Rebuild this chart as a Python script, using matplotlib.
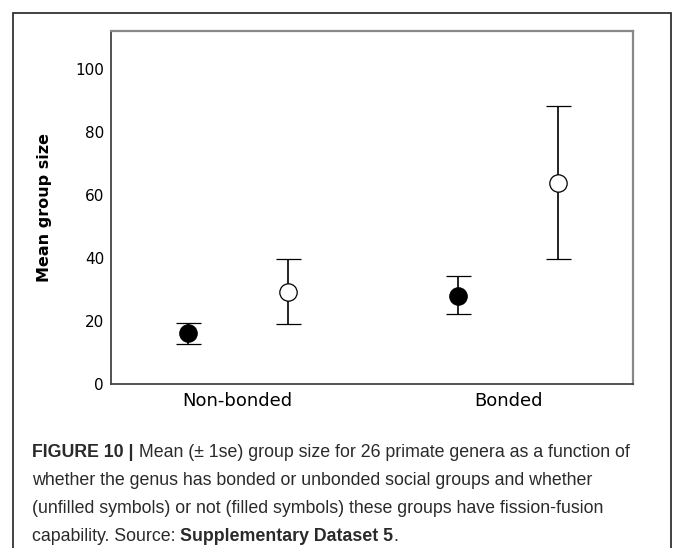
import matplotlib.pyplot as plt
from matplotlib.patches import Rectangle
import numpy as np

# values
groups = ['Non-bonded', 'Bonded']
filled_mean = [16.1, 27.8]
filled_lo = [12.7, 22.2]
filled_hi = [19.3, 34.2]
open_mean = [29.1, 63.9]
open_lo = [19.0, 39.6]
open_hi = [39.6, 88.3]
yticks = [0, 20, 40, 60, 80, 100]

caption = [
    [("FIGURE 10 |", "bold"), (" Mean (\u00b1 1se) group size for 26 primate genera as a function of", "normal")],
    [("whether the genus has bonded or unbonded social groups and whether", "normal")],
    [("(unfilled symbols) or not (filled symbols) these groups have fission-fusion", "normal")],
    [("capability. Source: ", "normal"), ("Supplementary Dataset 5", "bold"), (".", "normal")],
]


def draw_points(ax, x, mean, lo, hi, face):
    mean = np.array(mean)
    err = [mean - np.array(lo), np.array(hi) - mean]
    ax.errorbar(x, mean, yerr=err, fmt='o', color='black', ecolor='black',
                elinewidth=1.2, capsize=9, capthick=1.2, markersize=12.5,
                markerfacecolor=face, markeredgecolor='black', markeredgewidth=0.9)


fig = plt.figure(figsize=(6.73, 5.48), dpi=100)

# outer frame of the figure panel (open at the bottom)
fig.add_artist(Rectangle((13 / 673, -0.05), (671 - 13) / 673, (548 - 13) / 548 + 0.05,
                         transform=fig.transFigure, fill=False, edgecolor='#333333', linewidth=1.3))

ax = fig.add_axes([111 / 673, (548 - 384) / 548, (633 - 111) / 673, (384 - 31) / 548])
pos = np.arange(len(groups))
draw_points(ax, pos - 0.185, filled_mean, filled_lo, filled_hi, 'black')
draw_points(ax, pos + 0.185, open_mean, open_lo, open_hi, 'white')

ax.set_xlim(-0.468, 1.462)
ax.set_ylim(0, 112)
ax.set_xticks(pos)
ax.set_xticklabels(groups, fontsize=13)
ax.set_yticks(yticks)
ax.set_yticklabels([str(t) for t in yticks], fontsize=11)
ax.tick_params(length=0, pad=5)
ax.tick_params(axis='x', pad=6)
ax.set_ylabel('Mean group size', fontsize=11.5, fontweight='bold', labelpad=17)
for side in ['left', 'bottom']:
    ax.spines[side].set_color('#444444')
    ax.spines[side].set_linewidth(1.3)
for side in ['top', 'right']:
    ax.spines[side].set_color('#888888')
    ax.spines[side].set_linewidth(1.6)

# caption, pieces chained one after another
cap_style = dict(fontsize=12.8, family='Liberation Sans', color='#2a2a2a')
line_y = [457, 485, 513, 541]
for y, pieces in zip(line_y, caption):
    last = None
    for txt, weight in pieces:
        if last is None:
            last = fig.text(32 / 673, 1 - y / 548, txt, fontweight=weight,
                            va='baseline', ha='left', **cap_style)
        else:
            last = fig.add_artist(plt.Annotation(txt, xy=(1, 0), xycoords=last,
                                                 va='bottom', ha='left', fontweight=weight,
                                                 annotation_clip=False, **cap_style))

fig.savefig('out.png', dpi=100)
